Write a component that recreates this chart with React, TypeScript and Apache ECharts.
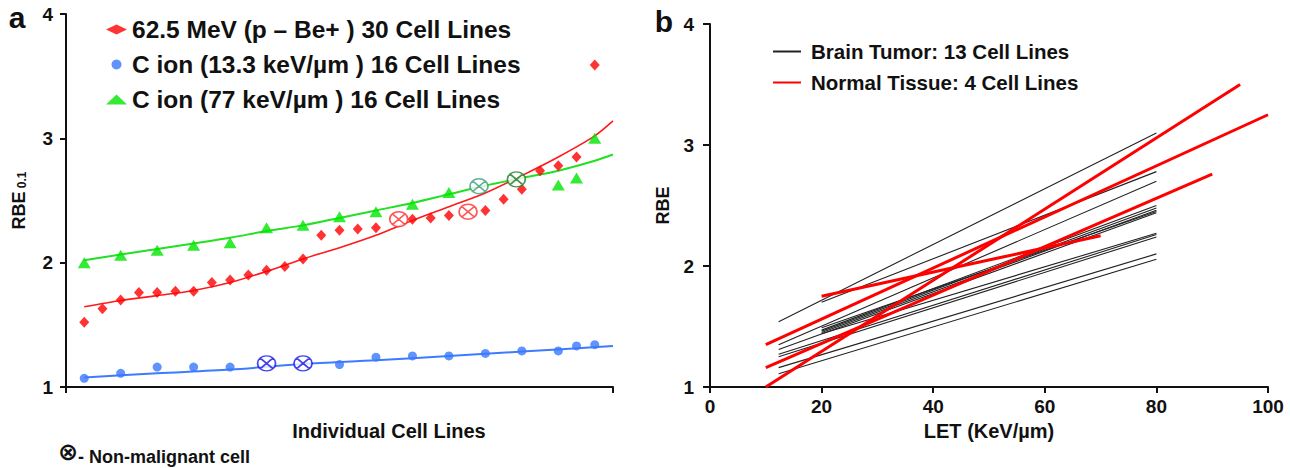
import React, { useEffect, useRef } from "react";
import * as echarts from "echarts";

const FONT = "'Liberation Sans', Arial, Helvetica, sans-serif";
const INK = "#111111";

// ---------- Panel a : individual cell lines ----------
const redName = "62.5 MeV (p – Be+ ) 30 Cell Lines";
const blueName = "C ion (13.3 keV/µm ) 16 Cell Lines";
const greenName = "C ion (77 keV/µm ) 16 Cell Lines";

const redCells = [1, 2, 3, 4, 5, 6, 7, 8, 9, 10, 11, 12, 13, 14, 15, 16, 17, 19, 20, 21, 23, 24, 25, 26, 27, 28, 29];
const redRBE = [1.52, 1.63, 1.7, 1.76, 1.76, 1.77, 1.77, 1.84, 1.86, 1.9, 1.94, 1.97, 2.03, 2.22, 2.26, 2.27, 2.28, 2.35, 2.36, 2.38, 2.42, 2.51, 2.59, 2.74, 2.78, 2.85, 3.59];
const redNMCells = [18.25, 22.05];
const redNMRBE = [2.35, 2.41];

const blueCells = [1, 3, 5, 7, 9, 15, 17, 19, 21, 23, 25, 27, 28, 29];
const blueRBE = [1.07, 1.11, 1.16, 1.16, 1.16, 1.18, 1.24, 1.25, 1.25, 1.27, 1.29, 1.29, 1.33, 1.34];
const blueNMCells = [11, 13];
const blueNMRBE = [1.19, 1.19];

const greenCells = [1, 3, 5, 7, 9, 11, 13, 15, 17, 19, 21, 27, 28, 29];
const greenRBE = [2.0, 2.06, 2.1, 2.14, 2.16, 2.28, 2.3, 2.37, 2.41, 2.47, 2.565, 2.625, 2.68, 3.0];
const greenNMCells = [22.65, 24.7];
const greenNMRBE = [2.615, 2.67];

const redFitCells = [1, 3, 5, 7, 9, 11, 13, 15, 17, 19, 21, 23, 25, 27, 29, 30];
const redFitRBE = [1.645, 1.696, 1.735, 1.776, 1.84, 1.93, 2.03, 2.12, 2.22, 2.34, 2.45, 2.56, 2.7, 2.85, 3.02, 3.14];
const greenFitCells = [1, 3, 5, 7, 9, 11, 13, 15, 17, 19, 21, 23, 25, 27, 29, 30];
const greenFitRBE = [2.02, 2.065, 2.11, 2.155, 2.2, 2.255, 2.3, 2.36, 2.42, 2.48, 2.55, 2.62, 2.68, 2.74, 2.82, 2.87];
const blueFitCells = [1, 5, 9, 13, 17, 21, 25, 30];
const blueFitRBE = [1.077, 1.11, 1.14, 1.185, 1.215, 1.25, 1.285, 1.33];

const yTicksA = [1, 2, 3, 4];

// ---------- Panel b : RBE vs LET ----------
const brainName = "Brain Tumor: 13 Cell Lines";
const normalName = "Normal Tissue: 4 Cell Lines";

const brainStartLET = [12.3, 20, 12.3, 20, 20, 20, 12.3, 20, 12.3, 12.3, 12.3, 12.3, 20];
const brainStartRBE = [1.54, 1.7, 1.35, 1.47, 1.46, 1.45, 1.31, 1.49, 1.27, 1.25, 1.16, 1.11, 1.44];
const brainEndLET = [80, 80, 80, 80, 80, 80, 80, 80, 80, 80, 80, 80, 80];
const brainEndRBE = [3.1, 2.78, 2.7, 2.5, 2.48, 2.46, 2.44, 2.45, 2.26, 2.24, 2.1, 2.055, 2.27];

const normalStartLET = [10, 10, 10, 20];
const normalStartRBE = [1.0, 1.35, 1.16, 1.75];
const normalEndLET = [95, 100, 90, 70];
const normalEndRBE = [3.5, 3.25, 2.76, 2.25];

const letTicks = [0, 20, 40, 60, 80, 100];

const zip = (xs: number[], ys: number[]) => xs.map((x, i) => [x, ys[i]]);

const OTIMES = "path://M0,10A10,10,0,1,1,20,10A10,10,0,1,1,0,10ZM3,3L17,17M17,3L3,17";

function buildOption() {
  const axisLine = { show: true, lineStyle: { color: INK, width: 2 } };
  const tickStyle = { color: INK, width: 2 };
  const boldRich = { b: { color: INK, fontSize: 19, fontWeight: "bold", fontFamily: FONT } };
  const labelStyle = {
    color: INK, fontSize: 19, fontWeight: "bold" as const, fontFamily: FONT,
    formatter: "{b|{value}}", rich: boldRich,
  };

  const series: any[] = [];

  // panel a fit curves
  series.push({
    type: "line", name: "fit-red", xAxisIndex: 0, yAxisIndex: 0, data: zip(redFitCells, redFitRBE),
    symbol: "none", smooth: 0.3, lineStyle: { color: "#ff1a1a", width: 1.6 }, z: 2,
  });
  series.push({
    type: "line", name: "fit-green", xAxisIndex: 0, yAxisIndex: 0, data: zip(greenFitCells, greenFitRBE),
    symbol: "none", smooth: 0.3, lineStyle: { color: "#22e022", width: 2 }, z: 2,
  });
  series.push({
    type: "line", name: "fit-blue", xAxisIndex: 0, yAxisIndex: 0, data: zip(blueFitCells, blueFitRBE),
    symbol: "none", smooth: 0.3, lineStyle: { color: "#3d7bff", width: 2 }, z: 2,
  });

  // panel a scatter
  series.push({
    type: "scatter", name: redName, xAxisIndex: 0, yAxisIndex: 0, data: zip(redCells, redRBE),
    symbol: "diamond", symbolSize: [10, 11], itemStyle: { color: "#ff0000" }, z: 3,
  });
  series.push({
    type: "scatter", name: blueName, xAxisIndex: 0, yAxisIndex: 0, data: zip(blueCells, blueRBE),
    symbol: "circle", symbolSize: 9, itemStyle: { color: "#3a78ff" }, z: 3,
  });
  series.push({
    type: "scatter", name: greenName, xAxisIndex: 0, yAxisIndex: 0, data: zip(greenCells, greenRBE),
    symbol: "triangle", symbolSize: [13, 11], itemStyle: { color: "#00e600" }, z: 3,
  });

  // non-malignant markers
  const nm = (name: string, xs: number[], ys: number[], colors: string[]) => ({
    type: "scatter", name, xAxisIndex: 0, yAxisIndex: 0,
    data: xs.map((x, i) => ({ value: [x, ys[i]], itemStyle: { color: "#ffffff", borderColor: colors[i], borderWidth: 1.6 } })),
    symbol: OTIMES, symbolSize: [18, 15], z: 4,
  });
  series.push(nm("nm-red", redNMCells, redNMRBE, ["#ff2a2a", "#ff2a2a"]));
  series.push(nm("nm-blue", blueNMCells, blueNMRBE, ["#1414e6", "#1414e6"]));
  series.push(nm("nm-green", greenNMCells, greenNMRBE, ["#3b9b7d", "#187a24"]));

  // panel b lines
  brainStartLET.forEach((x0, i) => {
    series.push({
      type: "line", name: brainName, xAxisIndex: 1, yAxisIndex: 1,
      data: [[x0, brainStartRBE[i]], [brainEndLET[i], brainEndRBE[i]]],
      symbol: "none", itemStyle: { color: "#222222" }, lineStyle: { color: "#222222", width: 1.1 }, z: 2,
    });
  });
  normalStartLET.forEach((x0, i) => {
    series.push({
      type: "line", name: normalName, xAxisIndex: 1, yAxisIndex: 1,
      data: [[x0, normalStartRBE[i]], [normalEndLET[i], normalEndRBE[i]]],
      symbol: "none", itemStyle: { color: "#ff0000" }, lineStyle: { color: "#ff0000", width: 3 }, z: 3, clip: false,
    });
  });

  return {
    animation: false,
    backgroundColor: "#ffffff",
    textStyle: { fontFamily: FONT },
    grid: [
      { left: 66, top: 14, width: 547, height: 373, outerBoundsMode: "none" },
      { left: 710, top: 24, width: 558, height: 363, outerBoundsMode: "none" },
    ],
    xAxis: [
      {
        gridIndex: 0, type: "value", min: 0, max: 30, interval: 30,
        axisLine, axisTick: { show: true, length: 6, lineStyle: tickStyle },
        axisLabel: { show: false }, splitLine: { show: false },
      },
      {
        gridIndex: 1, type: "value", min: letTicks[0], max: letTicks[letTicks.length - 1], interval: 20,
        axisLine, axisTick: { show: true, length: 6, lineStyle: tickStyle },
        axisLabel: { ...labelStyle, margin: 10 }, splitLine: { show: false },
        name: "LET (KeV/µm)", nameLocation: "middle", nameGap: 34,
        nameTextStyle: { color: INK, fontSize: 20, fontWeight: "bold", fontFamily: FONT },
      },
    ],
    yAxis: [
      {
        gridIndex: 0, type: "value", min: yTicksA[0], max: yTicksA[yTicksA.length - 1], interval: 1,
        axisLine, axisTick: { show: true, length: 6, lineStyle: tickStyle },
        axisLabel: { ...labelStyle, margin: 13 }, splitLine: { show: false },
        name: "{m|RBE} {s|0.1}", nameLocation: "middle", nameRotate: 90, nameGap: 38,
        nameTextStyle: {
          color: INK, fontFamily: FONT,
          rich: {
            m: { fontSize: 18, fontWeight: "bold", color: INK, fontFamily: FONT },
            s: { fontSize: 12, fontWeight: "bold", color: INK, fontFamily: FONT, verticalAlign: "bottom", padding: [4, 0, 0, 0] },
          },
        },
      },
      {
        gridIndex: 1, type: "value", min: 1, max: 4, interval: 1,
        axisLine, axisTick: { show: true, length: 7, lineStyle: tickStyle },
        axisLabel: { ...labelStyle, margin: 16 }, splitLine: { show: false },
        name: "RBE", nameLocation: "middle", nameRotate: 90, nameGap: 38,
        nameTextStyle: { color: INK, fontSize: 18, fontWeight: "bold", fontFamily: FONT },
      },
    ],
    legend: [
      {
        data: [
          { name: redName, icon: "diamond" },
          { name: blueName, icon: "circle" },
          { name: greenName, icon: "triangle" },
        ],
        orient: "vertical", left: 101, top: 12, itemWidth: 21, itemHeight: 10, itemGap: 10,
        selectedMode: false,
        textStyle: { color: INK, fontSize: 24.5, fontWeight: "bold", fontFamily: FONT },
      },
      {
        data: [brainName, normalName],
        orient: "vertical", left: 767, top: 36, itemWidth: 28, itemHeight: 10, itemGap: 10,
        selectedMode: false,
        itemStyle: { opacity: 0 },
        textStyle: { color: INK, fontSize: 20.5, fontWeight: "bold", fontFamily: FONT, padding: [0, 0, 0, 5] },
      },
    ],
    graphic: [
      { type: "text", x: 17, y: 17, style: { text: "a", font: `bold 30px ${FONT}`, fill: INK, align: "center", verticalAlign: "middle" } },
      { type: "text", x: 664, y: 21, style: { text: "b", font: `bold 30px ${FONT}`, fill: INK, align: "center", verticalAlign: "middle" } },
      { type: "text", x: 389, y: 431, style: { text: "Individual Cell Lines", font: `bold 20px ${FONT}`, fill: INK, align: "center", verticalAlign: "middle" } },
      { type: "text", x: 68, y: 452, style: { text: "⊗", font: `bold 24px 'DejaVu Sans', sans-serif`, fill: INK, align: "center", verticalAlign: "middle" } },
      { type: "text", x: 78, y: 457, style: { text: "- Non-malignant cell", font: `bold 18px ${FONT}`, fill: INK, align: "left", verticalAlign: "middle" } },
    ],
    series,
  };
}

export default function App() {
  const ref = useRef<HTMLDivElement>(null);
  useEffect(() => {
    if (!ref.current) return;
    const chart = echarts.init(ref.current, null, { renderer: "svg" });
    chart.setOption(buildOption() as any);
    return () => chart.dispose();
  }, []);
  return (
    <div
      ref={ref}
      style={{ position: "absolute", left: 0, top: 0, width: 1290, height: 468, background: "#ffffff" }}
    />
  );
}
